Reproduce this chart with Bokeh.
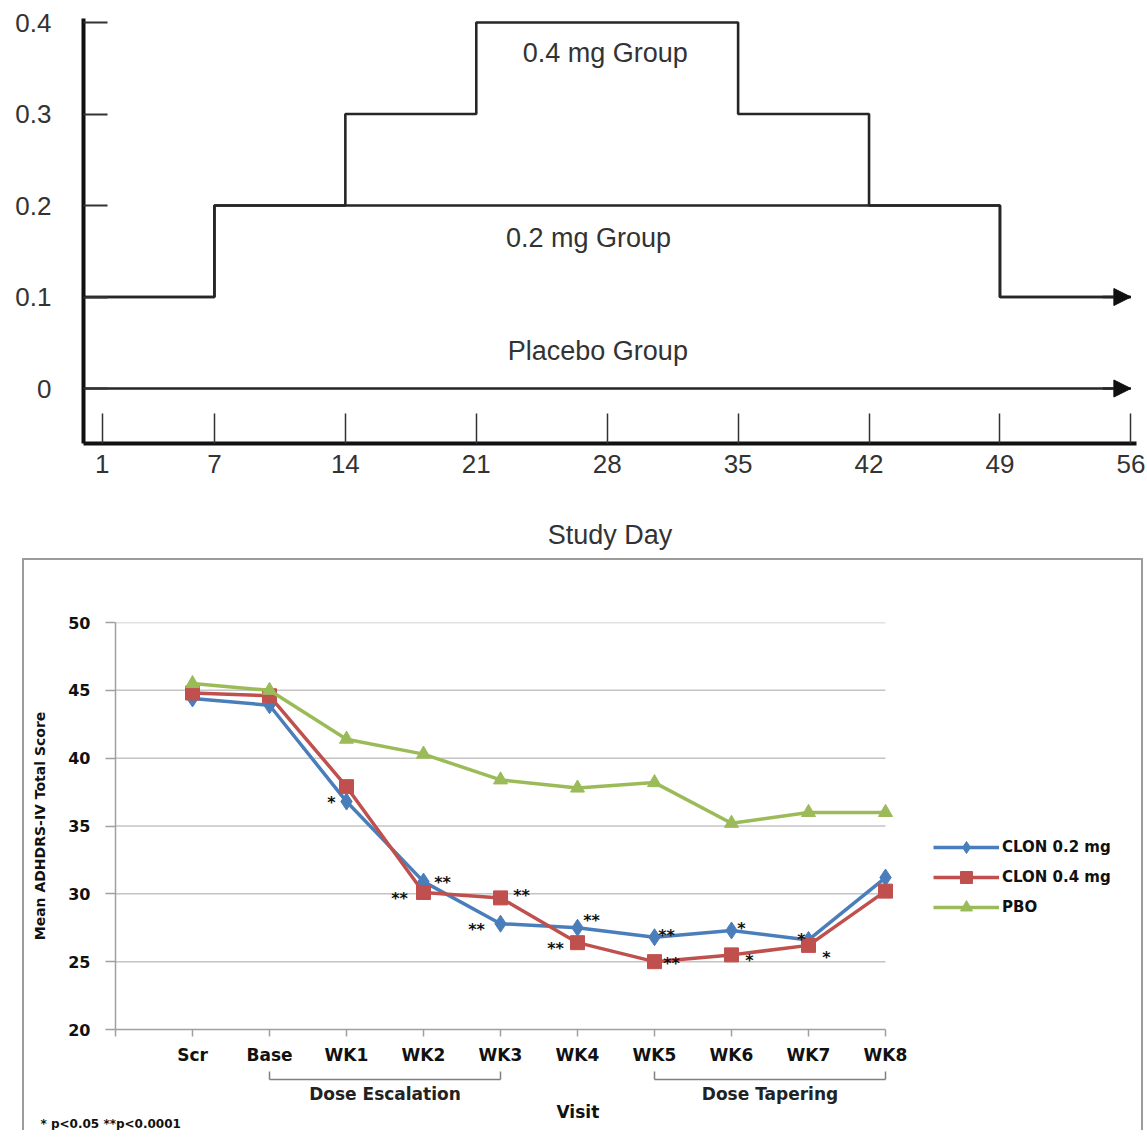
from bokeh.plotting import figure
from bokeh.models import (Range1d, FixedTicker, Arrow, NormalHead, Legend, LegendItem,
                          ColumnDataSource, PrintfTickFormatter, LinearAxis, Title)
from bokeh.embed import file_html
from bokeh.resources import INLINE
from bokeh.core.properties import value

# ---------------- top panel: dose schedule ----------------
dose_days_04 = [0, 7, 14, 21, 35, 42, 49, 56]
dose_04 = [0.1, 0.2, 0.3, 0.4, 0.3, 0.2, 0.1, 0.1]
dose_days_02 = [0, 7, 49, 56]
dose_02 = [0.1, 0.2, 0.1, 0.1]
dose_days_pbo = [0, 56]
dose_pbo = [0.0, 0.0]
day_ticks = [1, 7, 14, 21, 28, 35, 42, 49, 56]
dose_ticks = [0, 0.1, 0.2, 0.3, 0.4]
group_names = ["0.4 mg Group", "0.2 mg Group", "Placebo Group"]
group_label_x = [27.9, 27.0, 27.5]
group_label_y = [0.367, 0.165, 0.0415]

# ---------------- bottom panel: ADHDRS-IV ----------------
visits = ["Scr", "Base", "WK1", "WK2", "WK3", "WK4", "WK5", "WK6", "WK7", "WK8"]
clon02 = [44.4, 43.9, 36.8, 30.9, 27.8, 27.5, 26.8, 27.3, 26.6, 31.2]
clon04 = [44.8, 44.6, 37.9, 30.1, 29.7, 26.4, 25.0, 25.5, 26.2, 30.2]
pbo = [45.5, 45.0, 41.4, 40.3, 38.4, 37.8, 38.2, 35.2, 36.0, 36.0]
sig02 = ["", "", "*", "**", "**", "**", "**", "*", "*", ""]
sig04 = ["", "", "", "**", "**", "**", "**", "*", "*", ""]
score_ticks = [20, 25, 30, 35, 40, 45, 50]
series_names = ["CLON 0.2 mg", "CLON 0.4 mg", "PBO"]
phases = [("Dose Escalation", "Base", "WK3"), ("Dose Tapering", "WK5", "WK8")]
footnote = "* p<0.05  **p<0.0001"

# annotation offsets (screen px) for the significance marks
sig02_dx = [0, 0, -15, 19, -24, 14, 12, 10, -7, 0]
sig02_dy = [0, 0, 1, 1, 6, -7, -2, -2, 0, 0]
sig04_dx = [0, 0, 0, -24, 21, -22, 17, 18, 18, 0]
sig04_dy = [0, 0, 0, 6, -2, 6, 2, 6, 12, 0]

F1 = "Liberation Sans"
F2 = "DejaVu Sans"

# ============ top figure ============
top = figure(frame_width=1053, frame_height=425,
             x_range=Range1d(0, 56.3), y_range=Range1d(-0.0601, 0.4044),
             min_border_left=83, min_border_top=18, min_border_right=10, min_border_bottom=115,
             output_backend="svg", toolbar_location=None)
top.outline_line_color = None
top.grid.visible = False

for xs, ys in [(dose_days_04, dose_04), (dose_days_02, dose_02), (dose_days_pbo, dose_pbo)]:
    top.step(xs, ys, mode="after", line_width=2.6, line_color="#262626")

for ys, xs in [(dose_02, dose_days_02), (dose_pbo, dose_days_pbo)]:
    top.add_layout(Arrow(end=NormalHead(size=17, fill_color="#111111", line_color="#111111"),
                         x_start=xs[-1] - 1.5, y_start=ys[-1], x_end=xs[-1], y_end=ys[-1],
                         line_width=2.6, line_color="#262626"))

top.text(x=group_label_x, y=group_label_y, text=group_names, text_font=value(F1),
         text_font_size="27px", text_align="center", text_baseline="middle", text_color="#333333")

xa = top.xaxis[0]
xa.ticker = FixedTicker(ticks=day_ticks)
xa.major_tick_in = 30
xa.major_tick_out = 0
xa.major_tick_line_width = 1.5
xa.major_tick_line_color = "#333333"
xa.minor_tick_line_color = None
xa.axis_line_width = 4
xa.axis_line_color = "#111111"
xa.major_label_text_font = F1
xa.major_label_text_font_size = "26px"
xa.major_label_text_color = "#333333"
xa.major_label_standoff = 11
xa.axis_label = "Study Day"
xa.axis_label_text_font = F1
xa.axis_label_text_font_style = "normal"
xa.axis_label_text_font_size = "27px"
xa.axis_label_text_color = "#333333"
xa.axis_label_standoff = 44

ya = top.yaxis[0]
ya.ticker = FixedTicker(ticks=dose_ticks)
ya.formatter = PrintfTickFormatter(format="%g")
ya.major_tick_in = 24
ya.major_tick_out = 0
ya.major_tick_line_width = 2
ya.major_tick_line_color = "#333333"
ya.minor_tick_line_color = None
ya.axis_line_width = 4
ya.axis_line_color = "#111111"
ya.major_label_text_font = F1
ya.major_label_text_font_size = "26px"
ya.major_label_text_color = "#333333"
ya.major_label_standoff = 32

# ============ bottom figure ============
PXU = 77.0
bot = figure(frame_width=1010, frame_height=407,
             x_range=Range1d(-1, -1 + 1010 / PXU), y_range=Range1d(20, 50),
             min_border_left=91, min_border_top=62, min_border_right=16, min_border_bottom=0,
             output_backend="svg", toolbar_location=None)
bot.outline_line_color = None
bot.grid.visible = False
bot.margin = (0, 0, 0, 22)
bot.styles = {"border-top": "2px solid #9c9c9c", "border-left": "2px solid #9c9c9c",
              "border-right": "2px solid #9c9c9c"}

grid_y = score_ticks[1:]
bot.segment(x0=[-1] * len(grid_y), x1=[len(visits) - 1] * len(grid_y), y0=grid_y, y1=grid_y,
            line_color="#c4c4c4", line_width=1.5)

src = ColumnDataSource(dict(x=list(range(len(visits))), clon02=clon02, clon04=clon04, pbo=pbo,
                            sig02=sig02, sig04=sig04, dx2=sig02_dx, dy2=sig02_dy,
                            dx4=sig04_dx, dy4=sig04_dy))
BLUE, RED, GREEN = "#4a7ebb", "#c0504d", "#9bbb59"
l1 = bot.line("x", "clon02", source=src, line_color=BLUE, line_width=3.5)
m1 = bot.scatter("x", "clon02", source=src, marker="diamond", size=17, color=BLUE)
l2 = bot.line("x", "clon04", source=src, line_color=RED, line_width=3.5)
m2 = bot.scatter("x", "clon04", source=src, marker="square", size=14, color=RED)
l3 = bot.line("x", "pbo", source=src, line_color=GREEN, line_width=3.5)
m3 = bot.scatter("x", "pbo", source=src, marker="triangle", size=14, color=GREEN)

for col, dx, dy in [("sig02", "dx2", "dy2"), ("sig04", "dx4", "dy4")]:
    bot.text(x="x", y=col.replace("sig", "clon"), text=col, source=src, x_offset=dx, y_offset=dy,
             text_font=value(F2), text_font_style="bold", text_font_size="16px",
             text_align="center", text_baseline="middle", text_color="#111111")

legend = Legend(items=[LegendItem(label=series_names[0], renderers=[l1, m1]),
                       LegendItem(label=series_names[1], renderers=[l2, m2]),
                       LegendItem(label=series_names[2], renderers=[l3, m3])],
                location=(818, 107), glyph_width=66, glyph_height=30, label_height=30,
                spacing=0, padding=0, margin=0, label_standoff=3,
                border_line_color=None, background_fill_alpha=0,
                label_text_font=F2, label_text_font_style="bold", label_text_font_size="15px",
                label_text_color="#111111")
bot.add_layout(legend, "center")

AX = "#a0a0a0"
bx = bot.xaxis[0]
bx.ticker = FixedTicker(ticks=list(range(-1, len(visits))))
bx.major_label_overrides = {i: v for i, v in enumerate(visits)} | {-1: ""}
bx.bounds = (-1, len(visits) - 1)
bx.axis_line_color = AX
bx.axis_line_width = 1.5
bx.major_tick_in = 0
bx.major_tick_out = 7
bx.major_tick_line_color = AX
bx.major_tick_line_width = 1.5
bx.minor_tick_line_color = None
bx.major_label_text_font = F2
bx.major_label_text_font_style = "bold"
bx.major_label_text_font_size = "17px"
bx.major_label_text_color = "#111111"
bx.major_label_standoff = 8
bx.axis_label = " "
bx.axis_label_text_font_size = "8px"
bx.axis_label_standoff = 0

by = bot.yaxis[0]
by.ticker = FixedTicker(ticks=score_ticks)
by.bounds = (20, 50)
by.axis_line_color = AX
by.axis_line_width = 1.5
by.major_tick_in = 0
by.major_tick_out = 10
by.major_tick_line_color = AX
by.major_tick_line_width = 1.5
by.minor_tick_line_color = None
by.major_label_text_font = F2
by.major_label_text_font_style = "bold"
by.major_label_text_font_size = "16px"
by.major_label_text_color = "#111111"
by.major_label_standoff = 15
by.axis_label = "Mean ADHDRS-IV Total Score"
by.axis_label_text_font = F2
by.axis_label_text_font_style = "bold"
by.axis_label_text_font_size = "14px"
by.axis_label_text_color = "#111111"
by.axis_label_standoff = 17

# phase brackets: a second axis whose dashed line and minor ticks form the brackets
ends = [(visits.index(a), visits.index(b)) for _, a, b in phases]
centers = [(a + b) / 2 for a, b in ends]
seg1 = (ends[0][1] - ends[0][0]) * PXU
gap = (ends[1][0] - ends[0][1]) * PXU
seg2 = (ends[1][1] - ends[1][0]) * PXU
ax2 = LinearAxis(ticker=FixedTicker(ticks=centers, minor_ticks=[e for pair in ends for e in pair]),
                 bounds=(ends[0][0], ends[1][1]))
ax2.major_label_overrides = {c: name for c, (name, _, _) in zip(centers, phases)}
ax2.axis_line_color = "#808080"
ax2.axis_line_width = 1.5
ax2.axis_line_dash = f"{seg1:.0f} {gap:.0f} {seg2:.0f} {gap:.0f}"
ax2.major_tick_line_color = None
ax2.major_tick_in = 0
ax2.major_tick_out = 0
ax2.minor_tick_in = 8
ax2.minor_tick_out = 0
ax2.minor_tick_line_color = "#808080"
ax2.minor_tick_line_width = 1.5
ax2.major_label_text_font = F2
ax2.major_label_text_font_style = "bold"
ax2.major_label_text_font_size = "17px"
ax2.major_label_text_color = "#222222"
ax2.major_label_standoff = 4
ax2.axis_label_standoff = 0
bot.add_layout(ax2, "below")

bot.add_layout(Title(text="Visit", align="left", offset=441, standoff=-14,
                     text_font=F2, text_font_style="bold", text_font_size="17px",
                     text_color="#111111"), "below")
bot.add_layout(Title(text=footnote, align="left", offset=-75, standoff=0,
                     text_font=F2, text_font_style="bold", text_font_size="12px",
                     text_color="#111111"), "below")

open("out.html", "w").write(file_html([top, bot], INLINE))
